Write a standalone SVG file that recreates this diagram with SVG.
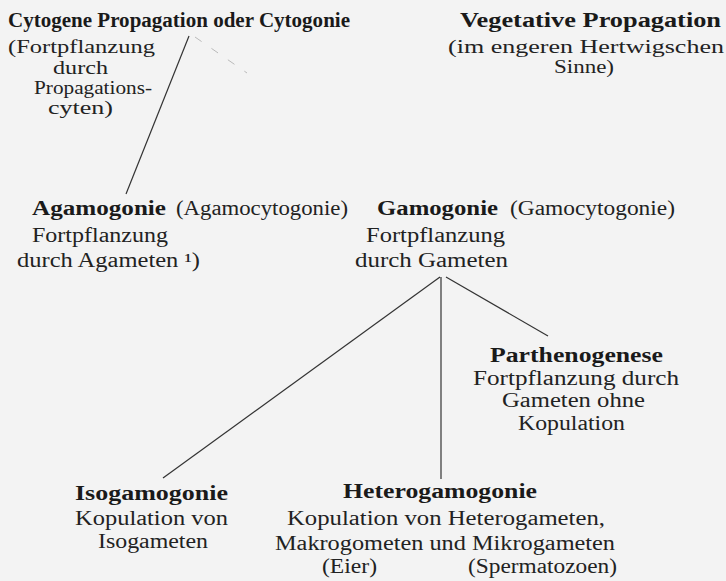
<svg xmlns="http://www.w3.org/2000/svg" width="726" height="581" viewBox="0 0 726 581">
<style>
text{font-family:"Liberation Serif","Times New Roman",serif;font-size:20px;fill:#222}
.b{font-weight:bold;fill:#1a1a1a}
.s{font-size:18px}
.c{stroke:#333;stroke-width:1.2;fill:none}
.d{stroke:#aaa;stroke-width:0.8;fill:none;stroke-dasharray:8 12}
</style>
<rect width="726" height="581" fill="#f3f3f3"/>
<g id="connectors">
<line class="c" x1="189" y1="36" x2="126" y2="194"/>
<line class="d" x1="195" y1="37" x2="247" y2="73"/>
<line class="c" x1="440" y1="277" x2="163" y2="478"/>
<line class="c" x1="441" y1="277" x2="441" y2="479"/>
<line class="c" x1="446" y1="277" x2="548" y2="336"/>
</g>
<g id="cytogene">
<text class="b" x="8" y="27" textLength="342" lengthAdjust="spacingAndGlyphs">Cytogene Propagation oder Cytogonie</text>
<text class="s" x="8" y="53" textLength="147" lengthAdjust="spacingAndGlyphs">(Fortpflanzung</text>
<text class="s" x="53" y="74" textLength="55" lengthAdjust="spacingAndGlyphs">durch</text>
<text class="s" x="34" y="94" textLength="118" lengthAdjust="spacingAndGlyphs">Propagations-</text>
<text class="s" x="48" y="114" textLength="65" lengthAdjust="spacingAndGlyphs">cyten)</text>
</g>
<g id="vegetative">
<text class="b" x="460" y="27" textLength="261" lengthAdjust="spacingAndGlyphs">Vegetative Propagation</text>
<text class="s" x="448" y="53" textLength="276" lengthAdjust="spacingAndGlyphs">(im  engeren  Hertwigschen</text>
<text class="s" x="554" y="73" textLength="60" lengthAdjust="spacingAndGlyphs">Sinne)</text>
</g>
<g id="agamogonie">
<text class="b" x="32" y="215" textLength="134" lengthAdjust="spacingAndGlyphs">Agamogonie</text>
<text x="176" y="215" textLength="172" lengthAdjust="spacingAndGlyphs">(Agamocytogonie)</text>
<text x="32" y="242" textLength="136" lengthAdjust="spacingAndGlyphs">Fortpflanzung</text>
<text x="17" y="267" textLength="183" lengthAdjust="spacingAndGlyphs">durch  Agameten ¹)</text>
</g>
<g id="gamogonie">
<text class="b" x="377" y="215" textLength="121" lengthAdjust="spacingAndGlyphs">Gamogonie</text>
<text x="510" y="215" textLength="165" lengthAdjust="spacingAndGlyphs">(Gamocytogonie)</text>
<text x="366" y="242" textLength="139" lengthAdjust="spacingAndGlyphs">Fortpflanzung</text>
<text x="355" y="267" textLength="153" lengthAdjust="spacingAndGlyphs">durch  Gameten</text>
</g>
<g id="parthenogenese">
<text class="b" x="490" y="362" textLength="173" lengthAdjust="spacingAndGlyphs">Parthenogenese</text>
<text x="473" y="385" textLength="206" lengthAdjust="spacingAndGlyphs">Fortpflanzung durch</text>
<text x="502" y="407" textLength="143" lengthAdjust="spacingAndGlyphs">Gameten ohne</text>
<text x="518" y="430" textLength="107" lengthAdjust="spacingAndGlyphs">Kopulation</text>
</g>
<g id="isogamogonie">
<text class="b" x="75" y="500" textLength="153" lengthAdjust="spacingAndGlyphs">Isogamogonie</text>
<text x="75" y="525" textLength="153" lengthAdjust="spacingAndGlyphs">Kopulation  von</text>
<text x="98" y="548" textLength="110" lengthAdjust="spacingAndGlyphs">Isogameten</text>
</g>
<g id="heterogamogonie">
<text class="b" x="343" y="498" textLength="194" lengthAdjust="spacingAndGlyphs">Heterogamogonie</text>
<text x="287" y="525" textLength="318" lengthAdjust="spacingAndGlyphs">Kopulation  von  Heterogameten,</text>
<text x="275" y="550" textLength="340" lengthAdjust="spacingAndGlyphs">Makrogometen und Mikrogameten</text>
<text x="322" y="573" textLength="55" lengthAdjust="spacingAndGlyphs">(Eier)</text>
<text x="468" y="573" textLength="149" lengthAdjust="spacingAndGlyphs">(Spermatozoen)</text>
</g>
</svg>
